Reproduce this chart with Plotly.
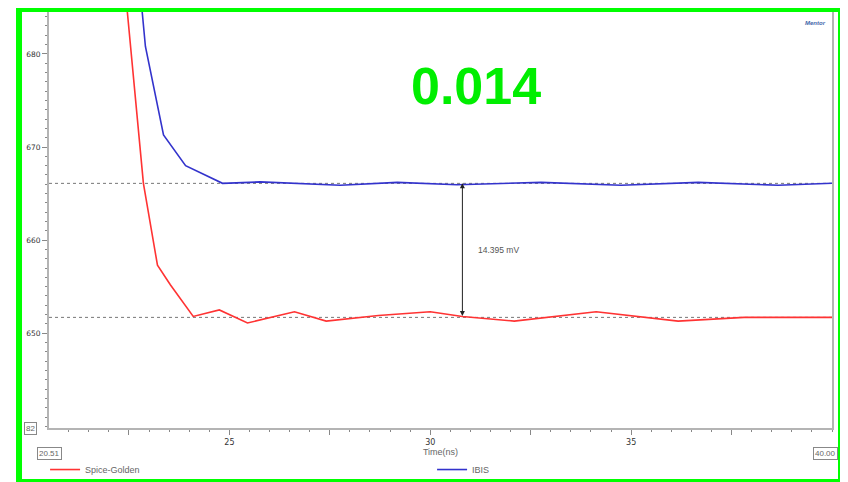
import plotly.graph_objects as go

# Spice-Golden waveform (red)
spice_t = [22.34, 22.46, 22.86, 23.21, 23.53, 24.10, 24.75, 25.45, 26.62, 27.41,
           28.71, 30.00, 30.80, 32.09, 34.13, 36.17, 37.81, 40.00]
spice_v = [692.3, 684.5, 666.1, 657.3, 655.2, 651.8, 652.5, 651.1, 652.3, 651.3,
           651.9, 652.3, 651.8, 651.3, 652.3, 651.3, 651.7, 651.7]

# IBIS waveform (blue)
ibis_t = [22.76, 22.83, 22.91, 23.36, 23.91, 24.83, 25.77, 27.76, 29.18, 30.67,
          32.76, 34.75, 36.67, 38.66, 40.00]
ibis_v = [692.3, 684.5, 680.8, 671.3, 668.0, 666.1, 666.25, 665.9, 666.2, 665.95,
          666.2, 665.9, 666.2, 665.9, 666.1]

# measurement levels and marker
ibis_level = 666.095
spice_level = 651.70
marker_t = 30.80
delta_label = "14.395 mV"
big_value = "0.014"

x_range = [20.51, 40.00]
y_range = [639.82, 684.5]
x_tickvals = [22.5, 25, 27.5, 30, 32.5, 35, 37.5]
x_ticktext = ["", "25", "", "30", "", "35", ""]
y_tickvals = [650, 660, 670, 680]
y_ticktext = ["650", "660", "670", "680"]

fig = go.Figure()

fig.add_trace(go.Scatter(x=spice_t, y=spice_v, mode="lines", name="Spice-Golden",
                         line=dict(color="#ff3333", width=1.6)))
fig.add_trace(go.Scatter(x=ibis_t, y=ibis_v, mode="lines", name="IBIS",
                         line=dict(color="#3333cc", width=1.6)))

# dashed reference levels
for lvl in [ibis_level, spice_level]:
    fig.add_shape(type="line", xref="paper", x0=0, x1=1, yref="y", y0=lvl, y1=lvl,
                  line=dict(color="#777777", width=1, dash="dot"), layer="below")

# double arrow between levels
fig.add_annotation(x=marker_t, y=ibis_level, ax=marker_t, ay=spice_level,
                   xref="x", yref="y", axref="x", ayref="y", text="",
                   showarrow=True, arrowhead=2, startarrowhead=2, arrowside="end+start",
                   arrowsize=1, arrowwidth=1, arrowcolor="#222222")
fig.add_annotation(x=marker_t, y=(ibis_level + spice_level) / 2, xref="x", yref="y",
                   text=delta_label, showarrow=False, xanchor="left", xshift=14,
                   font=dict(size=8.5, color="#555555"))

# big green value
fig.add_annotation(x=0.545, y=0.822, xref="paper", yref="paper", text=f"<b>{big_value}</b>",
                   showarrow=False, xanchor="center", yanchor="middle",
                   font=dict(size=52, color="#00ee00", family="Liberation Sans, Arial"))

# range end boxes
box = dict(showarrow=False, bordercolor="#888888", borderwidth=1, borderpad=1,
           bgcolor="white", font=dict(size=8, color="#666666"))
fig.add_annotation(x=0, y=-0.045, xref="paper", yref="paper", text=str(x_range[0]),
                   xanchor="center", yanchor="top", **box)
fig.add_annotation(x=1, y=-0.045, xref="paper", yref="paper", text=f"{x_range[1]:.2f}",
                   xanchor="right", yanchor="top", xshift=6, **box)
fig.add_annotation(x=-0.015, y=0, xref="paper", yref="paper", text="82",
                   xanchor="right", yanchor="middle", **box)

# logo placeholder top right
fig.add_annotation(x=0.995, y=0.985, xref="paper", yref="paper", text="<i><b>Mentor</b></i>",
                   showarrow=False, xanchor="right", yanchor="top",
                   font=dict(size=6, color="#4466aa"))

# green frame around everything (bottom edge runs off the page)
fig.add_shape(type="rect", xref="paper", yref="paper",
              x0=-0.0383, x1=1.0115, y0=-0.1298, y1=1.0072,
              line=dict(color="#00ff00", width=6))

# page body has an 8px margin, so the figure sits 8px right/down
fig.update_layout(
    width=848, height=482,
    margin=dict(l=41, r=24, t=4, b=62, autoexpand=False),
    paper_bgcolor="white", plot_bgcolor="white",
    font=dict(family="Liberation Sans, Arial", size=9, color="#555555"),
    showlegend=True,
    legend=dict(orientation="h", x=-0.005, y=-0.065, xanchor="left", yanchor="top",
                entrywidth=342, entrywidthmode="pixels",
                font=dict(size=9, color="#666666"), bgcolor="rgba(0,0,0,0)"),
    xaxis=dict(range=x_range, tickvals=x_tickvals, ticktext=x_ticktext,
               showgrid=False, zeroline=False, showline=True, mirror=True,
               linecolor="#b4b4b4", linewidth=2, ticks="outside", ticklen=5,
               tickcolor="#888888", tickfont=dict(size=8, color="#333333",
                                                  family="DejaVu Sans"),
               minor=dict(dtick=0.5, tick0=20, ticks="outside", ticklen=2,
                          tickcolor="#888888"),
               title=dict(text="Time(ns)", font=dict(size=9, color="#666666"),
                          standoff=2)),
    yaxis=dict(range=y_range, tickvals=y_tickvals, ticktext=y_ticktext,
               showgrid=False, zeroline=False, showline=True, mirror=True,
               linecolor="#b4b4b4", linewidth=2, ticks="outside", ticklen=5,
               tickcolor="#888888", tickfont=dict(size=7.5, color="#333333",
                                                  family="DejaVu Sans"),
               minor=dict(dtick=1, tick0=640, ticks="outside", ticklen=2,
                          tickcolor="#888888")),
)

fig.update_xaxes(tickprefix="<b>", ticksuffix="</b>")
fig.update_yaxes(tickprefix="<b>", ticksuffix="</b>")

fig.write_html("out.html")
